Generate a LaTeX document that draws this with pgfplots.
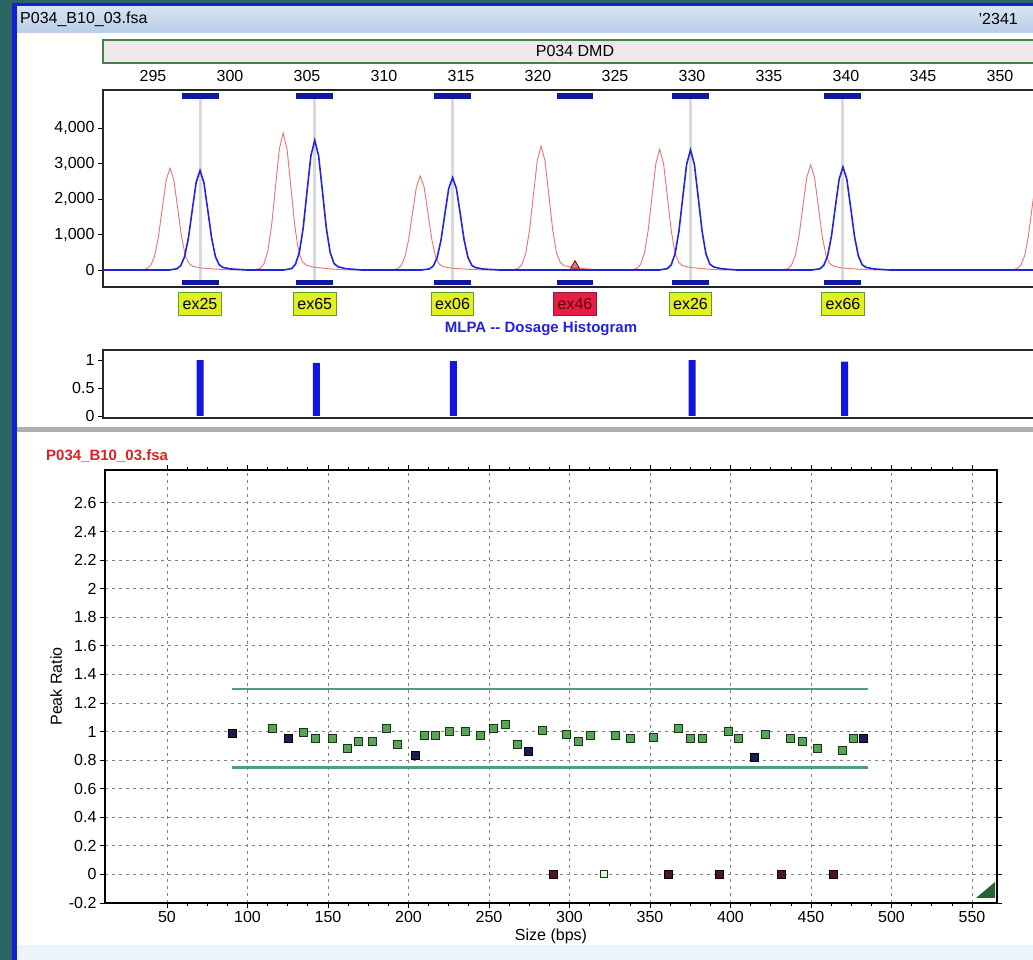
\documentclass[border=0pt]{standalone}
\usepackage{fontspec}
\setmainfont{Liberation Sans}
\usepackage{pgfplots}
\pgfplotsset{compat=1.18}
\definecolor{teal0}{RGB}{44,102,98}
\definecolor{winblue}{RGB}{20,30,210}
\definecolor{tbtop}{RGB}{215,228,242}
\definecolor{tbbot}{RGB}{185,205,232}
\definecolor{dmdfill}{RGB}{238,232,232}
\definecolor{dmdgreen}{RGB}{70,130,70}
\definecolor{sepgray}{RGB}{175,175,175}
\definecolor{redpk}{RGB}{235,115,115}
\definecolor{bluepk}{RGB}{35,35,220}
\definecolor{barblue}{RGB}{15,25,160}
\definecolor{histblue}{RGB}{20,20,225}
\definecolor{labyellow}{RGB}{225,240,30}
\definecolor{labgreen}{RGB}{90,160,40}
\definecolor{labred}{RGB}{228,30,70}
\definecolor{thrgreen}{RGB}{80,155,130}
\definecolor{ptgreen}{RGB}{85,165,85}
\definecolor{ptdark}{RGB}{25,50,25}
\definecolor{ptnavy}{RGB}{25,30,80}
\definecolor{ptmaroon}{RGB}{80,20,35}
\definecolor{gripgreen}{RGB}{35,100,50}
\definecolor{stripe}{RGB}{236,243,249}
\begin{document}
\begin{tikzpicture}
\path[use as bounding box] (0pt,0pt) rectangle (1033pt,960pt);
\clip (0pt,0pt) rectangle (1033pt,960pt);
\fill[teal0] (0pt,0pt) rectangle (1033pt,960pt);
\fill[white] (12pt,0pt) rectangle (1033pt,957pt);
\fill[stripe] (17pt,0pt) rectangle (1033pt,15pt);
\shade[top color=tbtop, bottom color=tbbot] (17pt,927pt) rectangle (1033pt,954pt);
\fill[winblue] (12pt,0pt) rectangle (17pt,957pt);
\fill[winblue] (12pt,954pt) rectangle (1033pt,957pt);
\node[anchor=west, font=\fontsize{16}{18}\selectfont, inner sep=0pt] at (20pt,941pt) {P034\_B10\_03.fsa};
\node[anchor=east, font=\fontsize{16}{18}\selectfont, inner sep=0pt] at (1018pt,941pt) {'2341};
\draw[fill=dmdfill, draw=dmdgreen, line width=1.5pt] (103pt,897pt) rectangle (1045pt,920pt);
\node[font=\fontsize{16}{18}\selectfont] at (575pt,908.5pt) {P034 DMD};
\fill[sepgray] (17pt,528pt) rectangle (1033pt,533pt);
\node[anchor=west, text={rgb,255:red,215;green,35;blue,35}, font=\fontsize{15}{17}\selectfont\bfseries, inner sep=0pt] at (46pt,504pt) {P034\_B10\_03.fsa};
\node[text=bluepk, font=\fontsize{15}{17}\selectfont\bfseries] at (541pt,631pt) {MLPA -{}- Dosage Histogram};

% ---------------- electropherogram ----------------
\begin{axis}[
  at={(103pt,673pt)}, anchor=south west, scale only axis,
  width=940pt, height=197pt,
  xmin=291.75, xmax=352.79, ymin=-480, ymax=5070,
  xtick={295,300,...,350}, xticklabel pos=upper,
  x tick style={draw=none},
  ytick={0,1000,2000,3000,4000}, scaled y ticks=false,
  yticklabel style={/pgf/number format/1000 sep={,}},
  tick align=outside, y tick style={black, line width=0.8pt}, major tick length=5pt,
  axis line style={line width=1.3pt, black!85},
  tick label style={font=\fontsize{16}{18}\selectfont},
  /pgf/number format/assume math mode=true,
  clip=false,
]
\addplot[gray!30, line width=3pt] coordinates {(298.05,-366) (298.05,4900)};
\addplot[gray!30, line width=3pt] coordinates {(305.5,-366) (305.5,4900)};
\addplot[gray!30, line width=3pt] coordinates {(314.45,-366) (314.45,4900)};
\addplot[gray!30, line width=3pt] coordinates {(329.9,-366) (329.9,4900)};
\addplot[gray!30, line width=3pt] coordinates {(339.8,-366) (339.8,4900)};
% bars on top edge
\addplot[barblue, line width=6pt] coordinates {(296.85,4900) (299.25,4900)};
\addplot[barblue, line width=6pt] coordinates {(304.3,4900) (306.7,4900)};
\addplot[barblue, line width=6pt] coordinates {(313.25,4900) (315.65,4900)};
\addplot[barblue, line width=6pt] coordinates {(321.2,4900) (323.6,4900)};
\addplot[barblue, line width=6pt] coordinates {(328.7,4900) (331.1,4900)};
\addplot[barblue, line width=6pt] coordinates {(338.6,4900) (341.0,4900)};
% bars on bottom edge
\addplot[barblue, line width=5pt] coordinates {(296.85,-366) (299.25,-366)};
\addplot[barblue, line width=5pt] coordinates {(304.3,-366) (306.7,-366)};
\addplot[barblue, line width=5pt] coordinates {(313.25,-366) (315.65,-366)};
\addplot[barblue, line width=5pt] coordinates {(321.2,-366) (323.6,-366)};
\addplot[barblue, line width=5pt] coordinates {(328.7,-366) (331.1,-366)};
\addplot[barblue, line width=5pt] coordinates {(338.6,-366) (341.0,-366)};
% red trace
\addplot[redpk, line width=0.9pt] coordinates {
(291.75,0)
(294.1,0) (294.6,32) (294.85,126) (295.1,387) (295.35,933) (295.6,1742) (295.85,2531) (296.1,2870) (296.35,2531) (296.6,1742) (296.85,933) (297.1,387) (297.35,172) (297.6,100) (298.1,57) (299.1,23) (300.1,0)
(301.45,0) (301.95,42) (302.2,170) (302.45,521) (302.7,1255) (302.95,2343) (303.2,3405) (303.45,3860) (303.7,3405) (303.95,2343) (304.2,1255) (304.45,521) (304.7,232) (304.95,135) (305.45,77) (306.45,31) (307.45,0)
(310.35,0) (310.85,29) (311.1,117) (311.35,358) (311.6,861) (311.85,1609) (312.1,2337) (312.35,2650) (312.6,2337) (312.85,1609) (313.1,861) (313.35,358) (313.6,159) (313.85,93) (314.35,53) (315.35,21) (316.35,0)
(318.2,0) (318.7,38) (318.95,154) (319.2,471) (319.45,1134) (319.7,2118) (319.95,3078) (320.2,3490) (320.45,3078) (320.7,2118) (320.95,1134) (321.2,471) (321.45,209) (321.7,122) (322.2,70) (323.2,28) (324.2,0)
(325.9,0) (326.4,37) (326.65,150) (326.9,459) (327.15,1105) (327.4,2064) (327.65,2999) (327.9,3400) (328.15,2999) (328.4,2064) (328.65,1105) (328.9,459) (329.15,204) (329.4,119) (329.9,68) (330.9,27) (331.9,0)
(335.7,0) (336.2,33) (336.45,130) (336.7,400) (336.95,962) (337.2,1797) (337.45,2611) (337.7,2960) (337.95,2611) (338.2,1797) (338.45,962) (338.7,400) (338.95,178) (339.2,104) (339.7,59) (340.7,24) (341.7,0)
(350.6,0) (351.1,33) (351.35,132) (351.6,405) (351.85,975) (352.1,1821) (352.35,2646) (352.6,3000) (352.85,2646) (353.1,1821)
};
% blue trace
\addplot[bluepk, line width=1.6pt] coordinates {
(291.75,0)
(296.05,0) (296.55,31) (296.8,123) (297.05,378) (297.3,910) (297.55,1700) (297.8,2470) (298.05,2800) (298.3,2470) (298.55,1700) (298.8,910) (299.05,378) (299.3,140) (299.55,70) (300.05,28) (301.05,0)
(303.5,0) (304.0,40) (304.25,161) (304.5,493) (304.75,1186) (305.0,2216) (305.25,3219) (305.5,3650) (305.75,3219) (306.0,2216) (306.25,1186) (306.5,493) (306.75,183) (307.0,91) (307.5,37) (308.5,0)
(312.45,0) (312.95,29) (313.2,114) (313.45,351) (313.7,845) (313.95,1578) (314.2,2293) (314.45,2600) (314.7,2293) (314.95,1578) (315.2,845) (315.45,351) (315.7,130) (315.95,65) (316.45,26) (317.45,0)
(327.9,0) (328.4,37) (328.65,149) (328.9,456) (329.15,1099) (329.4,2052) (329.65,2981) (329.9,3380) (330.15,2981) (330.4,2052) (330.65,1099) (330.9,456) (331.15,169) (331.4,85) (331.9,34) (332.9,0)
(337.8,0) (338.3,32) (338.55,128) (338.8,392) (339.05,943) (339.3,1760) (339.55,2558) (339.8,2900) (340.05,2558) (340.3,1760) (340.55,943) (340.8,392) (341.05,145) (341.3,73) (341.8,29) (342.8,0)
(355,0)
};
\addplot[only marks, mark=triangle*, mark size=5pt, mark options={fill=redpk, draw=red!50!black, line width=0.8pt}] coordinates {(322.4,120)};
% exon labels
\begin{scope}[every node/.style={draw=labgreen, line width=1pt, fill=labyellow, font=\fontsize{16}{18}\selectfont, inner xsep=4pt, inner ysep=2pt, minimum height=23pt}]
\node at (axis cs:298.05,-960) {ex25};
\node at (axis cs:305.5,-960) {ex65};
\node at (axis cs:314.45,-960) {ex06};
\node[fill=labred, draw=labred!70!black, text=red!40!black] at (axis cs:322.4,-960) {ex46};
\node at (axis cs:329.9,-960) {ex26};
\node at (axis cs:339.8,-960) {ex66};
\end{scope}
\end{axis}

% ---------------- dosage histogram ----------------
\begin{axis}[
  at={(103pt,542pt)}, anchor=south west, scale only axis,
  width=940pt, height=68pt,
  xmin=291.75, xmax=352.79, ymin=-0.036, ymax=1.18,
  xtick=\empty, ytick={0,0.5,1},
  tick align=outside, y tick style={black, line width=0.8pt}, major tick length=5pt,
  axis line style={line width=1.3pt, black!85},
  tick label style={font=\fontsize{16}{18}\selectfont},
  /pgf/number format/assume math mode=true,
]
\addplot[ybar, bar width=7pt, fill=histblue, draw=none] coordinates {(298.05,1.0) (305.6,0.95) (314.5,0.98) (330.0,1.0) (339.9,0.97)};
\end{axis}

% ---------------- peak ratio plot ----------------
\begin{axis}[
  at={(105pt,57pt)}, anchor=south west, scale only axis,
  width=892pt, height=433pt,
  xmin=11.5, xmax=565.5, ymin=-0.2, ymax=2.83,
  xtick={50,100,...,550},
  ytick={-0.2,0,0.2,0.4,0.6,0.8,1,1.2,1.4,1.6,1.8,2,2.2,2.4,2.6},
  minor x tick num=3,
  tick align=outside, tick style={black, line width=0.8pt}, major tick length=5pt, minor tick length=3pt,
  grid=major, major grid style={black!50, dash pattern=on 3pt off 4pt, line width=0.8pt},
  axis line style={line width=1.8pt, black},
  tick label style={font=\fontsize{16}{18}\selectfont},
  label style={font=\fontsize{16}{18}\selectfont},
  xlabel={Size (bps)}, ylabel={Peak Ratio},
  xlabel style={yshift=1pt},
  /pgf/number format/assume math mode=true,
]
\addplot[thrgreen, line width=1.8pt] coordinates {(90.4,1.3) (485.4,1.3)};
\addplot[thrgreen, line width=3pt] coordinates {(90.4,0.75) (485.4,0.75)};
% green (normal) probes
\addplot[only marks, mark=square*, mark size=4pt, mark options={fill=ptgreen, draw=ptdark, line width=0.9pt}] coordinates {
(115.8,1.02) (134.5,0.99) (142.5,0.95) (152.5,0.95) (161.8,0.88) (168.6,0.93) (177.3,0.93) (186.0,1.02) (192.9,0.91)
(210.2,0.97) (216.5,0.97) (225.2,1.0) (235.1,1.0) (244.4,0.97) (252.5,1.02) (259.9,1.05) (267.4,0.91) (282.9,1.01)
(298.4,0.98) (305.3,0.93) (312.7,0.97) (328.3,0.97) (337.6,0.95) (351.9,0.96) (367.4,1.02) (374.8,0.95) (382.3,0.95)
(398.4,1.0) (405.2,0.95) (421.4,0.98) (437.0,0.95) (444.4,0.93) (453.7,0.88) (469.3,0.87) (476.1,0.95)
};
% dark (reference / low) probes
\addplot[only marks, mark=square*, mark size=4pt, mark options={fill=ptnavy, draw=black, line width=0.8pt}] coordinates {
(90.4,0.99) (125.2,0.95) (204.0,0.83) (274.2,0.86) (414.6,0.82) (482.3,0.95)
};
% zero-ratio probes
\addplot[only marks, mark=square*, mark size=4pt, mark options={fill=ptmaroon, draw=black, line width=0.8pt}] coordinates {
(289.8,0) (361.2,0) (392.9,0) (431.4,0) (463.7,0)
};
\addplot[only marks, mark=square*, mark size=3.5pt, mark options={fill=green!15!white, draw=ptdark, line width=1pt}] coordinates {(321.4,0)};
\end{axis}
\fill[gripgreen] (976pt,62pt) -- (995pt,62pt) -- (995pt,78pt) -- cycle;
\end{tikzpicture}
\end{document}
